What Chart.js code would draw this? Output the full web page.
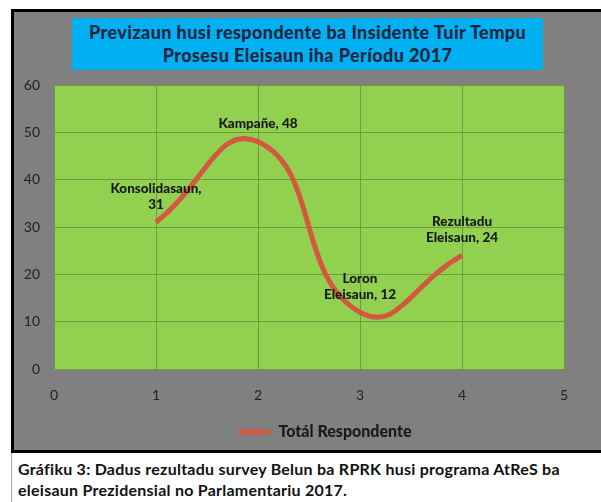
<!DOCTYPE html>
<html lang="tet">
<head>
  <meta charset="UTF-8" />
  <title>Previzaun husi respondente</title>
  <script src="https://cdn.jsdelivr.net/npm/chart.js"></script>
  <style>
    html, body { margin: 0; padding: 0; background: #fff; width: 601px; height: 502px; overflow: hidden; }
    body { position: relative; font-family: Lato, "Noto Sans", sans-serif; }
    #panel {
      position: absolute; left: 11px; top: 9px; width: 600px; height: 438px;
      background: #808080; border: 3px solid #000; border-right: none;
    }
    #title {
      position: absolute; left: 72px; top: 18px; width: 471px; height: 52px;
      background: #00b0f0; color: #1b2644; font-weight: 900; font-size: 18px;
      letter-spacing: 0.4px; line-height: 23px; text-align: center; padding-top: 3px; box-sizing: border-box;
    }
    #caption {
      position: absolute; left: 11px; top: 453px; width: 590px; height: 49px;
      border-left: 1px solid #aaa; padding-left: 6px; box-sizing: border-box;
      font-weight: bold; font-size: 16px; letter-spacing: 0.25px; line-height: 21px; color: #111; padding-top: 5px;
    }
    #chart { position: absolute; left: 0; top: 0; z-index: 2; }
  </style>
</head>
<body>
  <div id="panel"></div>
  <div id="title">Previzaun husi respondente ba Insidente Tuir Tempu<br>Prosesu Eleisaun iha Períodu 2017</div>
  <div id="caption">Gráfiku 3: Dadus rezultadu survey Belun ba RPRK husi programa AtReS ba<br>eleisaun Prezidensial no Parlamentariu 2017.</div>
  <canvas id="chart" width="601" height="502"></canvas>

  <script>
    const stages = ["Konsolidasaun", "Kampañe", "Loron Eleisaun", "Rezultadu Eleisaun"];
    const stageX = [1, 2, 3, 4];
    const respondents = [31, 48, 12, 24];
    // label lines as they wrap in the original
    const labelLines = [["Konsolidasaun,", "31"], ["Kampañe, 48"], ["Loron", "Eleisaun, 12"], ["Rezultadu", "Eleisaun, 24"]];

    // green plot area behind everything
    const plotBg = {
      id: "plotBg",
      beforeDraw(chart) {
        const { ctx, chartArea: a } = chart;
        ctx.save();
        ctx.fillStyle = "#92d050";
        ctx.fillRect(a.left, a.top, a.right - a.left, a.bottom - a.top);
        ctx.restore();
      }
    };

    // the legend sits a bit right of centre in the original
    const shiftLegend = {
      id: "shiftLegend",
      afterLayout(chart) {
        chart.legend.left += 36;
        chart.legend.right += 36;
      }
    };

    // data labels above each point
    const pointLabels = {
      id: "pointLabels",
      afterDatasetsDraw(chart) {
        const ctx = chart.ctx;
        const meta = chart.getDatasetMeta(0);
        ctx.save();
        ctx.font = "900 13.5px Lato";
        ctx.fillStyle = "#1a1a1a";
        ctx.textAlign = "center";
        ctx.textBaseline = "middle";
        meta.data.forEach((pt, i) => {
          const lines = labelLines[i];
          lines.forEach((t, j) => {
            const y = pt.y - 18 - (lines.length - 1 - j) * 16;
            ctx.fillText(t, pt.x, y);
          });
        });
        ctx.restore();
      }
    };

    new Chart(document.getElementById("chart"), {
      type: "line",
      data: {
        datasets: [{
          label: "Totál Respondente",
          data: stageX.map((x, i) => ({ x: x, y: respondents[i] })),
          borderColor: "#d4573f",
          backgroundColor: "#d4573f",
          borderWidth: 5,
          pointRadius: 0,
          pointStyle: "line",
          tension: 0.5,
          fill: false
        }]
      },
      options: {
        responsive: false,
        animation: false,
        layout: { padding: { left: 14, right: 37, top: 85, bottom: 52 } },
        scales: {
          x: {
            type: "linear", min: 0, max: 5,
            ticks: { stepSize: 1, padding: 18, color: "#222", font: { family: "Lato", size: 14 } },
            grid: { color: "#6e9a45", drawTicks: false },
            border: { display: false },
            afterFit(s) { s.height = 45; }
          },
          y: {
            min: 0, max: 60,
            ticks: { stepSize: 10, padding: 14, color: "#222", font: { family: "Lato", size: 14 } },
            grid: { color: "#6e9a45", drawTicks: false },
            border: { display: false },
            afterFit(s) { s.width = 40; }
          }
        },
        plugins: {
          legend: {
            position: "bottom",
            labels: {
              usePointStyle: true, pointStyle: "line", pointStyleWidth: 32,
              padding: 10, color: "#1a1a1a",
              font: { family: "Lato", size: 16, weight: "900" }
            }
          },
          tooltip: { enabled: false }
        }
      },
      plugins: [plotBg, shiftLegend, pointLabels]
    });
  </script>
</body>
</html>
